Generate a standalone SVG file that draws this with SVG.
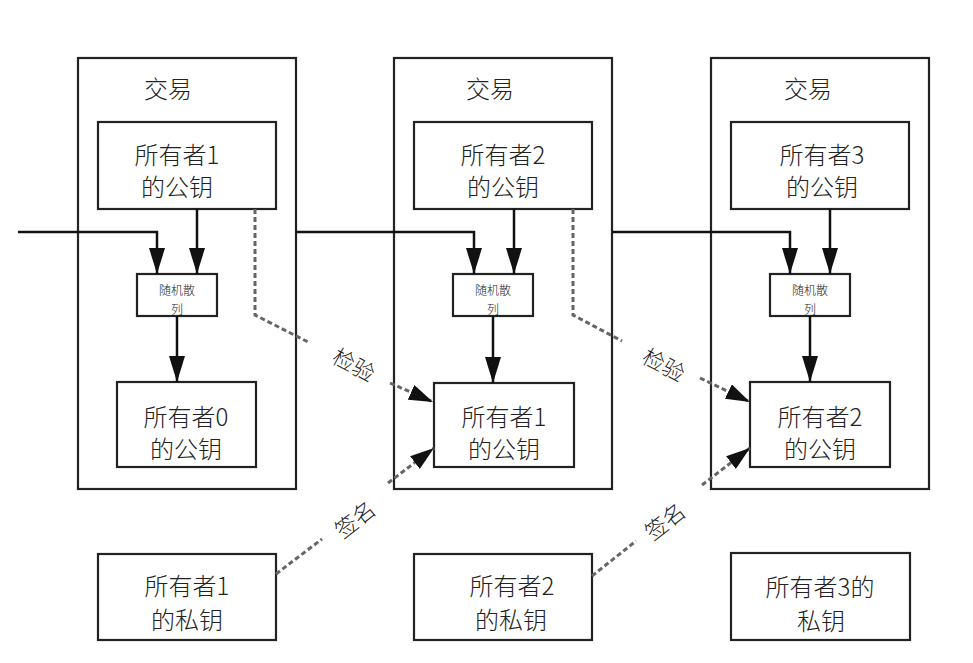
<svg xmlns="http://www.w3.org/2000/svg" width="973" height="663" viewBox="0 0 973 663">
<style>
.box{fill:#fff;stroke:#222;stroke-width:2.2}
.t{font-family:"Noto Sans CJK SC","Noto Sans",sans-serif;fill:#222;text-anchor:middle;font-weight:300}
.big{font-size:24px}
.lab{font-size:22px}
.sm{font-size:12px}
.line{fill:none;stroke:#111;stroke-width:2.5}
.dash{fill:none;stroke:#666;stroke-width:3;stroke-dasharray:5 3}
</style>
<defs>
<marker id="ah" markerUnits="userSpaceOnUse" markerWidth="26" markerHeight="16" refX="26" refY="8" orient="auto">
<path d="M0,0 L26,8 L0,16 z" fill="#111"/>
</marker>
<marker id="ahs" markerUnits="userSpaceOnUse" markerWidth="24" markerHeight="16" refX="24" refY="8" orient="auto">
<path d="M0,0 L24,8 L0,16 z" fill="#111"/>
</marker>
</defs>
<rect width="973" height="663" fill="#fff"/>

<g id="tx1">
<rect class="box" x="78" y="58" width="218" height="431"/>
<text class="t big" x="168" y="98">交易</text>
</g>
<g id="tx2">
<rect class="box" x="394" y="58" width="218" height="431"/>
<text class="t big" x="490" y="98">交易</text>
</g>
<g id="tx3">
<rect class="box" x="711" y="58" width="218" height="431"/>
<text class="t big" x="808" y="98">交易</text>
</g>

<g id="pub1">
<rect class="box" x="98" y="122" width="178" height="87"/>
<text class="t big" x="177" y="164">所有者1</text>
<text class="t big" x="177" y="196">的公钥</text>
</g>
<g id="pub2">
<rect class="box" x="414" y="122" width="178" height="87"/>
<text class="t big" x="503" y="164">所有者2</text>
<text class="t big" x="503" y="196">的公钥</text>
</g>
<g id="pub3">
<rect class="box" x="731" y="122" width="178" height="87"/>
<text class="t big" x="822" y="164">所有者3</text>
<text class="t big" x="822" y="196">的公钥</text>
</g>

<g id="hash1">
<rect class="box" x="137" y="274" width="80" height="42"/>
<text class="t sm" x="177" y="295">随机散</text>
<text class="t sm" x="177" y="314">列</text>
</g>
<g id="hash2">
<rect class="box" x="453" y="274" width="80" height="42"/>
<text class="t sm" x="493" y="295">随机散</text>
<text class="t sm" x="493" y="314">列</text>
</g>
<g id="hash3">
<rect class="box" x="770" y="274" width="80" height="42"/>
<text class="t sm" x="810" y="295">随机散</text>
<text class="t sm" x="810" y="314">列</text>
</g>

<g id="pub0in1">
<rect class="box" x="117" y="382" width="139" height="85"/>
<text class="t big" x="186" y="426">所有者0</text>
<text class="t big" x="186" y="458">的公钥</text>
</g>
<g id="pub1in2">
<rect class="box" x="434" y="383" width="140" height="84"/>
<text class="t big" x="504" y="426">所有者1</text>
<text class="t big" x="504" y="458">的公钥</text>
</g>
<g id="pub2in3">
<rect class="box" x="750" y="382" width="140" height="85"/>
<text class="t big" x="820" y="426">所有者2</text>
<text class="t big" x="820" y="458">的公钥</text>
</g>

<g id="priv1">
<rect class="box" x="98" y="554" width="178" height="86"/>
<text class="t big" x="187" y="595">所有者1</text>
<text class="t big" x="187" y="629">的私钥</text>
</g>
<g id="priv2">
<rect class="box" x="414" y="554" width="178" height="86"/>
<text class="t big" x="512" y="595">所有者2</text>
<text class="t big" x="511" y="629">的私钥</text>
</g>
<g id="priv3">
<rect class="box" x="731" y="553" width="179" height="87"/>
<text class="t big" x="820" y="596">所有者3的</text>
<text class="t big" x="821" y="630">私钥</text>
</g>

<g id="connectors">
<path class="line" d="M18,232 H157 V274" marker-end="url(#ah)"/>
<path class="line" d="M197,209 V274" marker-end="url(#ah)"/>
<path class="line" d="M177,316 V382" marker-end="url(#ah)"/>
<path class="line" d="M296,232 H474 V274" marker-end="url(#ah)"/>
<path class="line" d="M514,209 V274" marker-end="url(#ah)"/>
<path class="line" d="M493,316 V383" marker-end="url(#ah)"/>
<path class="line" d="M612,232 H790 V274" marker-end="url(#ah)"/>
<path class="line" d="M830,209 V274" marker-end="url(#ah)"/>
<path class="line" d="M810,316 V382" marker-end="url(#ah)"/>

<path class="dash" d="M255,209 V315 L310,343"/>
<path class="dash" d="M390,383 L433,402" marker-end="url(#ahs)"/>
<path class="dash" d="M573,209 V315 L622,341"/>
<path class="dash" d="M700,378 L750,402" marker-end="url(#ahs)"/>
<path class="dash" d="M276,574 L322,539"/>
<path class="dash" d="M388,483 L434,448" marker-end="url(#ahs)"/>
<path class="dash" d="M592,576 L636,541"/>
<path class="dash" d="M702,485 L750,448" marker-end="url(#ahs)"/>

<text class="t lab" transform="translate(350,372) rotate(28)">检验</text>
<text class="t lab" transform="translate(660,372) rotate(28)">检验</text>
<text class="t lab" transform="translate(360,526) rotate(-38)">签名</text>
<text class="t lab" transform="translate(670,528) rotate(-38)">签名</text>
</g>
</svg>
